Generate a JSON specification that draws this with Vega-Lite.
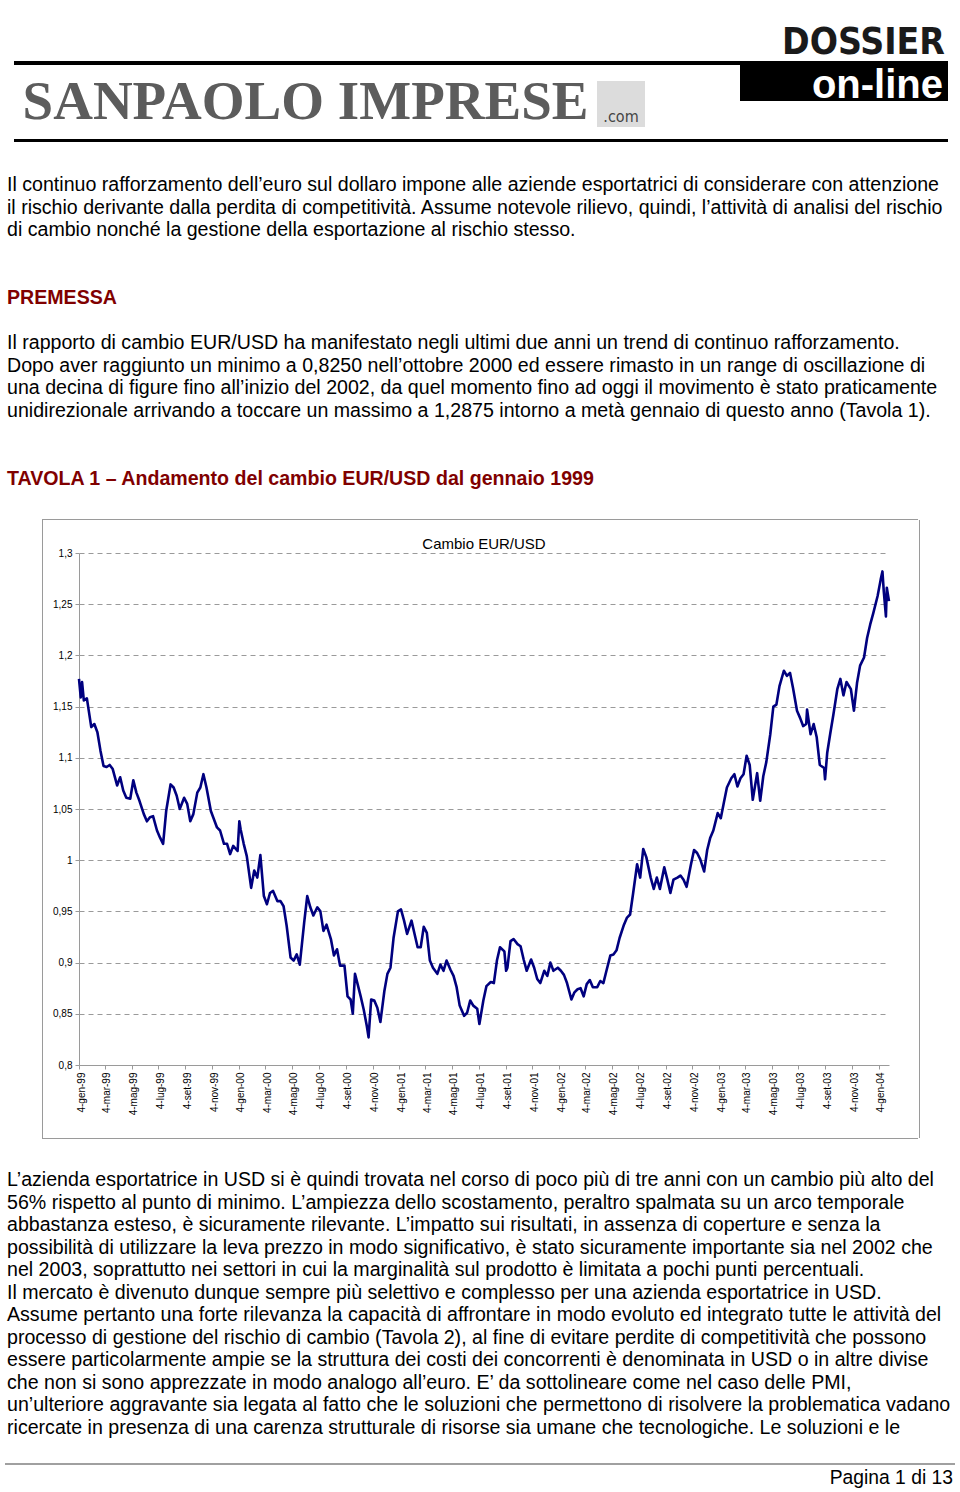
{
  "$schema": "https://vega.github.io/schema/vega-lite/v6.json",
  "background": "white",
  "padding": {"top": 24, "left": 0, "right": 0, "bottom": 0},
  "spacing": 0,
  "config": {"view": {"stroke": null}, "concat": {"spacing": 0}},
  "vconcat": [
    {
      "spacing": 0,
      "hconcat": [
        {"width": 14, "height": 1, "data": {"values": []}, "mark": "rect", "encoding": {}},
        {
          "spacing": 0,
          "vconcat": [
            {"width": 726, "height": 4, "data": {"values": [{}]}, "mark": {"type": "rect", "color": "#000000"}, "encoding": {}},
            {
              "spacing": 0,
              "hconcat": [
                {
                  "width": 583, "height": 74,
                  "data": {"values": [{"marchio": "SANPAOLO IMPRESE"}]},
                  "mark": {"type": "text", "font": "Liberation Serif", "fontWeight": "bold", "fontSize": 55, "color": "#5c5c5c", "align": "center", "baseline": "middle"},
                  "encoding": {"text": {"field": "marchio"}}
                },
                {
                  "spacing": 0,
                  "vconcat": [
                    {"width": 48, "height": 16, "data": {"values": []}, "mark": "rect", "encoding": {}},
                    {
                      "width": 48, "height": 46,
                      "data": {"values": [{"dominio": ".com"}]},
                      "layer": [
                        {"mark": {"type": "rect", "color": "#dcdcdc"}, "encoding": {}},
                        {"mark": {"type": "text", "font": "DejaVu Sans Condensed", "fontSize": 16, "color": "#444444", "baseline": "alphabetic", "y": "height", "dy": -5}, "encoding": {"text": {"field": "dominio"}}}
                      ]
                    }
                  ]
                }
              ]
            }
          ]
        },
        {
          "width": 208, "height": 40,
          "title": {"text": "DOSSIER", "orient": "top", "anchor": "end", "frame": "group", "offset": -30, "baseline": "alphabetic", "font": "DejaVu Sans Condensed", "fontWeight": "bold", "fontSize": 37, "color": "#1a1a1a", "dx": -3},
          "data": {"values": [{"testata": "on-line"}]},
          "layer": [
            {"mark": {"type": "rect", "color": "#000000"}, "encoding": {}},
            {"mark": {"type": "text", "font": "Liberation Sans", "fontWeight": "bold", "fontSize": 40, "color": "#ffffff", "align": "right", "baseline": "middle", "x": "width", "dx": -5, "dy": 5}, "encoding": {"text": {"field": "testata"}}}
          ]
        }
      ]
    },
    {
      "spacing": 0,
      "hconcat": [
        {"width": 14, "height": 1, "data": {"values": []}, "mark": "rect", "encoding": {}},
        {"width": 934, "height": 3, "data": {"values": [{}]}, "mark": {"type": "rect", "color": "#000000"}, "encoding": {}}
      ]
    },
    {
      "spacing": 0,
      "hconcat": [
        {"width": 7, "height": 1, "data": {"values": []}, "mark": "rect", "encoding": {}},
        {
          "width": 946, "height": 377,
          "data": {"values": [
            {"riga": 1, "tipo": "testo", "testo": "Il continuo rafforzamento dell’euro sul dollaro impone alle aziende esportatrici di considerare con attenzione"},
            {"riga": 2, "tipo": "testo", "testo": "il rischio derivante dalla perdita di competitività. Assume notevole rilievo, quindi, l’attività di analisi del rischio"},
            {"riga": 3, "tipo": "testo", "testo": "di cambio nonché la gestione della esportazione al rischio stesso."},
            {"riga": 6, "tipo": "titolo", "testo": "PREMESSA"},
            {"riga": 8, "tipo": "testo", "testo": "Il rapporto di cambio EUR/USD ha manifestato negli ultimi due anni un trend di continuo rafforzamento."},
            {"riga": 9, "tipo": "testo", "testo": "Dopo aver raggiunto un minimo a 0,8250 nell’ottobre 2000 ed essere rimasto in un range di oscillazione di"},
            {"riga": 10, "tipo": "testo", "testo": "una decina di figure fino all’inizio del 2002, da quel momento fino ad oggi il movimento è stato praticamente"},
            {"riga": 11, "tipo": "testo", "testo": "unidirezionale arrivando a toccare un massimo a 1,2875 intorno a metà gennaio di questo anno (Tavola 1)."},
            {"riga": 14, "tipo": "titolo", "testo": "TAVOLA 1 – Andamento del cambio EUR/USD dal gennaio 1999"}
          ]},
          "encoding": {
            "x": {"datum": 0, "type": "quantitative", "scale": {"domain": [0, 1], "nice": false}, "axis": null},
            "y": {"field": "riga", "type": "quantitative", "scale": {"domain": [-0.903, 15.78], "reverse": true, "nice": false, "zero": false}, "axis": null},
            "text": {"field": "testo"}
          },
          "layer": [
            {"transform": [{"filter": "datum.tipo === 'testo'"}], "mark": {"type": "text", "align": "left", "baseline": "middle", "font": "Liberation Sans", "fontSize": 19.6, "color": "#000000"}},
            {"transform": [{"filter": "datum.tipo === 'titolo'"}], "mark": {"type": "text", "align": "left", "baseline": "middle", "font": "Liberation Sans", "fontSize": 19.6, "fontWeight": "bold", "color": "#800000"}}
          ]
        }
      ]
    },
    {
      "spacing": 0,
      "hconcat": [
        {"width": 42, "height": 1, "data": {"values": []}, "mark": "rect", "encoding": {}},
        {
          "spacing": 0,
          "vconcat": [
            {"width": 876, "height": 1, "data": {"values": [{}]}, "mark": {"type": "rect", "color": "#9a9a9a"}, "encoding": {}},
            {
              "spacing": 0,
              "hconcat": [
                {"width": 1, "height": 618, "data": {"values": [{}]}, "mark": {"type": "rect", "color": "#9a9a9a"}, "encoding": {}},
                {"width": 8.5, "height": 1, "data": {"values": []}, "mark": "rect", "encoding": {}},
                {
                  "spacing": 0,
                  "vconcat": [
                    {"width": 1, "height": 17, "data": {"values": []}, "mark": "rect", "encoding": {}},
                    {
                      "width": 810, "height": 512,
                      "title": {"text": "Cambio EUR/USD", "font": "Liberation Sans", "fontSize": 15, "fontWeight": "normal", "color": "#000000", "anchor": "middle", "frame": "group", "offset": -16, "baseline": "alphabetic"},
                      "data": {"values": [
                        {"giorno": "1999-01-04", "cambio": 1.177}, {"giorno": "1999-01-08", "cambio": 1.159}, {"giorno": "1999-01-11", "cambio": 1.174}, {"giorno": "1999-01-15", "cambio": 1.156}, {"giorno": "1999-01-22", "cambio": 1.158},
                        {"giorno": "1999-02-01", "cambio": 1.130}, {"giorno": "1999-02-08", "cambio": 1.133}, {"giorno": "1999-02-15", "cambio": 1.125}, {"giorno": "1999-02-22", "cambio": 1.107},
                        {"giorno": "1999-03-01", "cambio": 1.092}, {"giorno": "1999-03-08", "cambio": 1.091}, {"giorno": "1999-03-15", "cambio": 1.093}, {"giorno": "1999-03-22", "cambio": 1.089},
                        {"giorno": "1999-04-01", "cambio": 1.073}, {"giorno": "1999-04-08", "cambio": 1.081}, {"giorno": "1999-04-15", "cambio": 1.068}, {"giorno": "1999-04-22", "cambio": 1.061},
                        {"giorno": "1999-05-01", "cambio": 1.060}, {"giorno": "1999-05-08", "cambio": 1.078}, {"giorno": "1999-05-15", "cambio": 1.066}, {"giorno": "1999-05-22", "cambio": 1.058},
                        {"giorno": "1999-06-01", "cambio": 1.045}, {"giorno": "1999-06-08", "cambio": 1.038}, {"giorno": "1999-06-15", "cambio": 1.042}, {"giorno": "1999-06-22", "cambio": 1.043},
                        {"giorno": "1999-07-01", "cambio": 1.029}, {"giorno": "1999-07-08", "cambio": 1.022}, {"giorno": "1999-07-15", "cambio": 1.016}, {"giorno": "1999-07-22", "cambio": 1.048},
                        {"giorno": "1999-08-01", "cambio": 1.074}, {"giorno": "1999-08-08", "cambio": 1.071}, {"giorno": "1999-08-15", "cambio": 1.063}, {"giorno": "1999-08-22", "cambio": 1.050},
                        {"giorno": "1999-09-01", "cambio": 1.061}, {"giorno": "1999-09-08", "cambio": 1.055}, {"giorno": "1999-09-15", "cambio": 1.038}, {"giorno": "1999-09-22", "cambio": 1.045},
                        {"giorno": "1999-10-01", "cambio": 1.066}, {"giorno": "1999-10-08", "cambio": 1.071}, {"giorno": "1999-10-15", "cambio": 1.084}, {"giorno": "1999-10-22", "cambio": 1.071},
                        {"giorno": "1999-11-01", "cambio": 1.048}, {"giorno": "1999-11-08", "cambio": 1.040}, {"giorno": "1999-11-15", "cambio": 1.032}, {"giorno": "1999-11-22", "cambio": 1.029},
                        {"giorno": "1999-12-01", "cambio": 1.016}, {"giorno": "1999-12-08", "cambio": 1.016}, {"giorno": "1999-12-15", "cambio": 1.006}, {"giorno": "1999-12-22", "cambio": 1.014},
                        {"giorno": "2000-01-01", "cambio": 1.009}, {"giorno": "2000-01-05", "cambio": 1.038}, {"giorno": "2000-01-08", "cambio": 1.030}, {"giorno": "2000-01-15", "cambio": 1.016}, {"giorno": "2000-01-22", "cambio": 1.004},
                        {"giorno": "2000-02-01", "cambio": 0.973}, {"giorno": "2000-02-08", "cambio": 0.990}, {"giorno": "2000-02-15", "cambio": 0.983}, {"giorno": "2000-02-22", "cambio": 1.005},
                        {"giorno": "2000-03-01", "cambio": 0.965}, {"giorno": "2000-03-08", "cambio": 0.957}, {"giorno": "2000-03-15", "cambio": 0.968}, {"giorno": "2000-03-22", "cambio": 0.970},
                        {"giorno": "2000-04-01", "cambio": 0.960}, {"giorno": "2000-04-08", "cambio": 0.960}, {"giorno": "2000-04-15", "cambio": 0.955}, {"giorno": "2000-04-22", "cambio": 0.936},
                        {"giorno": "2000-05-01", "cambio": 0.905}, {"giorno": "2000-05-08", "cambio": 0.902}, {"giorno": "2000-05-15", "cambio": 0.908}, {"giorno": "2000-05-22", "cambio": 0.898},
                        {"giorno": "2000-06-01", "cambio": 0.939}, {"giorno": "2000-06-08", "cambio": 0.965}, {"giorno": "2000-06-15", "cambio": 0.954}, {"giorno": "2000-06-22", "cambio": 0.946},
                        {"giorno": "2000-07-01", "cambio": 0.954}, {"giorno": "2000-07-08", "cambio": 0.950}, {"giorno": "2000-07-15", "cambio": 0.931}, {"giorno": "2000-07-22", "cambio": 0.937},
                        {"giorno": "2000-08-01", "cambio": 0.923}, {"giorno": "2000-08-08", "cambio": 0.907}, {"giorno": "2000-08-15", "cambio": 0.913}, {"giorno": "2000-08-22", "cambio": 0.897},
                        {"giorno": "2000-09-01", "cambio": 0.897}, {"giorno": "2000-09-08", "cambio": 0.867}, {"giorno": "2000-09-15", "cambio": 0.864}, {"giorno": "2000-09-20", "cambio": 0.850}, {"giorno": "2000-09-25", "cambio": 0.889},
                        {"giorno": "2000-10-01", "cambio": 0.879}, {"giorno": "2000-10-08", "cambio": 0.867}, {"giorno": "2000-10-15", "cambio": 0.854}, {"giorno": "2000-10-22", "cambio": 0.838}, {"giorno": "2000-10-26", "cambio": 0.827},
                        {"giorno": "2000-11-01", "cambio": 0.864}, {"giorno": "2000-11-08", "cambio": 0.863}, {"giorno": "2000-11-15", "cambio": 0.856}, {"giorno": "2000-11-22", "cambio": 0.842},
                        {"giorno": "2000-12-01", "cambio": 0.872}, {"giorno": "2000-12-08", "cambio": 0.889}, {"giorno": "2000-12-15", "cambio": 0.895}, {"giorno": "2000-12-22", "cambio": 0.924},
                        {"giorno": "2001-01-01", "cambio": 0.950}, {"giorno": "2001-01-08", "cambio": 0.952}, {"giorno": "2001-01-15", "cambio": 0.941}, {"giorno": "2001-01-22", "cambio": 0.928},
                        {"giorno": "2001-02-01", "cambio": 0.941}, {"giorno": "2001-02-08", "cambio": 0.928}, {"giorno": "2001-02-15", "cambio": 0.915}, {"giorno": "2001-02-22", "cambio": 0.915},
                        {"giorno": "2001-03-01", "cambio": 0.935}, {"giorno": "2001-03-08", "cambio": 0.929}, {"giorno": "2001-03-15", "cambio": 0.902}, {"giorno": "2001-03-22", "cambio": 0.895},
                        {"giorno": "2001-04-01", "cambio": 0.889}, {"giorno": "2001-04-08", "cambio": 0.898}, {"giorno": "2001-04-15", "cambio": 0.892}, {"giorno": "2001-04-22", "cambio": 0.902},
                        {"giorno": "2001-05-01", "cambio": 0.893}, {"giorno": "2001-05-08", "cambio": 0.887}, {"giorno": "2001-05-15", "cambio": 0.876}, {"giorno": "2001-05-22", "cambio": 0.858},
                        {"giorno": "2001-06-01", "cambio": 0.848}, {"giorno": "2001-06-08", "cambio": 0.851}, {"giorno": "2001-06-15", "cambio": 0.863}, {"giorno": "2001-06-22", "cambio": 0.858},
                        {"giorno": "2001-07-01", "cambio": 0.855}, {"giorno": "2001-07-06", "cambio": 0.840}, {"giorno": "2001-07-15", "cambio": 0.863}, {"giorno": "2001-07-22", "cambio": 0.877},
                        {"giorno": "2001-08-01", "cambio": 0.881}, {"giorno": "2001-08-08", "cambio": 0.880}, {"giorno": "2001-08-15", "cambio": 0.902}, {"giorno": "2001-08-22", "cambio": 0.915},
                        {"giorno": "2001-09-01", "cambio": 0.911}, {"giorno": "2001-09-05", "cambio": 0.892}, {"giorno": "2001-09-08", "cambio": 0.895}, {"giorno": "2001-09-15", "cambio": 0.921}, {"giorno": "2001-09-22", "cambio": 0.923},
                        {"giorno": "2001-10-01", "cambio": 0.918}, {"giorno": "2001-10-08", "cambio": 0.916}, {"giorno": "2001-10-15", "cambio": 0.903}, {"giorno": "2001-10-22", "cambio": 0.892},
                        {"giorno": "2001-11-01", "cambio": 0.903}, {"giorno": "2001-11-08", "cambio": 0.895}, {"giorno": "2001-11-15", "cambio": 0.884}, {"giorno": "2001-11-22", "cambio": 0.880},
                        {"giorno": "2001-12-01", "cambio": 0.892}, {"giorno": "2001-12-08", "cambio": 0.887}, {"giorno": "2001-12-15", "cambio": 0.900}, {"giorno": "2001-12-22", "cambio": 0.892},
                        {"giorno": "2002-01-01", "cambio": 0.895}, {"giorno": "2002-01-08", "cambio": 0.892}, {"giorno": "2002-01-15", "cambio": 0.888}, {"giorno": "2002-01-22", "cambio": 0.880},
                        {"giorno": "2002-02-01", "cambio": 0.864}, {"giorno": "2002-02-08", "cambio": 0.871}, {"giorno": "2002-02-15", "cambio": 0.874}, {"giorno": "2002-02-22", "cambio": 0.875},
                        {"giorno": "2002-03-01", "cambio": 0.867}, {"giorno": "2002-03-08", "cambio": 0.879}, {"giorno": "2002-03-15", "cambio": 0.883}, {"giorno": "2002-03-22", "cambio": 0.876},
                        {"giorno": "2002-04-01", "cambio": 0.876}, {"giorno": "2002-04-08", "cambio": 0.882}, {"giorno": "2002-04-15", "cambio": 0.880}, {"giorno": "2002-04-22", "cambio": 0.892},
                        {"giorno": "2002-05-01", "cambio": 0.907}, {"giorno": "2002-05-08", "cambio": 0.908}, {"giorno": "2002-05-15", "cambio": 0.912}, {"giorno": "2002-05-22", "cambio": 0.924},
                        {"giorno": "2002-06-01", "cambio": 0.937}, {"giorno": "2002-06-08", "cambio": 0.944}, {"giorno": "2002-06-15", "cambio": 0.947}, {"giorno": "2002-06-22", "cambio": 0.968},
                        {"giorno": "2002-07-01", "cambio": 0.996}, {"giorno": "2002-07-08", "cambio": 0.983}, {"giorno": "2002-07-15", "cambio": 1.011}, {"giorno": "2002-07-22", "cambio": 1.003},
                        {"giorno": "2002-08-01", "cambio": 0.983}, {"giorno": "2002-08-08", "cambio": 0.972}, {"giorno": "2002-08-15", "cambio": 0.983}, {"giorno": "2002-08-22", "cambio": 0.972},
                        {"giorno": "2002-09-01", "cambio": 0.993}, {"giorno": "2002-09-08", "cambio": 0.981}, {"giorno": "2002-09-15", "cambio": 0.968}, {"giorno": "2002-09-22", "cambio": 0.981},
                        {"giorno": "2002-10-01", "cambio": 0.983}, {"giorno": "2002-10-08", "cambio": 0.985}, {"giorno": "2002-10-15", "cambio": 0.981}, {"giorno": "2002-10-22", "cambio": 0.974},
                        {"giorno": "2002-11-01", "cambio": 0.996}, {"giorno": "2002-11-08", "cambio": 1.010}, {"giorno": "2002-11-15", "cambio": 1.007}, {"giorno": "2002-11-22", "cambio": 1.001},
                        {"giorno": "2002-12-01", "cambio": 0.989}, {"giorno": "2002-12-08", "cambio": 1.010}, {"giorno": "2002-12-15", "cambio": 1.022}, {"giorno": "2002-12-22", "cambio": 1.029},
                        {"giorno": "2003-01-01", "cambio": 1.046}, {"giorno": "2003-01-08", "cambio": 1.041}, {"giorno": "2003-01-15", "cambio": 1.056}, {"giorno": "2003-01-22", "cambio": 1.071},
                        {"giorno": "2003-02-01", "cambio": 1.080}, {"giorno": "2003-02-08", "cambio": 1.084}, {"giorno": "2003-02-15", "cambio": 1.072}, {"giorno": "2003-02-22", "cambio": 1.080},
                        {"giorno": "2003-03-01", "cambio": 1.084}, {"giorno": "2003-03-08", "cambio": 1.102}, {"giorno": "2003-03-15", "cambio": 1.093}, {"giorno": "2003-03-22", "cambio": 1.059},
                        {"giorno": "2003-04-01", "cambio": 1.085}, {"giorno": "2003-04-08", "cambio": 1.058}, {"giorno": "2003-04-15", "cambio": 1.082}, {"giorno": "2003-04-22", "cambio": 1.096},
                        {"giorno": "2003-05-01", "cambio": 1.123}, {"giorno": "2003-05-08", "cambio": 1.150}, {"giorno": "2003-05-15", "cambio": 1.152}, {"giorno": "2003-05-22", "cambio": 1.170},
                        {"giorno": "2003-06-01", "cambio": 1.185}, {"giorno": "2003-06-08", "cambio": 1.180}, {"giorno": "2003-06-15", "cambio": 1.183}, {"giorno": "2003-06-22", "cambio": 1.168},
                        {"giorno": "2003-07-01", "cambio": 1.146}, {"giorno": "2003-07-08", "cambio": 1.139}, {"giorno": "2003-07-15", "cambio": 1.131}, {"giorno": "2003-07-22", "cambio": 1.133}, {"giorno": "2003-07-24", "cambio": 1.147},
                        {"giorno": "2003-08-01", "cambio": 1.123}, {"giorno": "2003-08-08", "cambio": 1.133}, {"giorno": "2003-08-15", "cambio": 1.120}, {"giorno": "2003-08-22", "cambio": 1.093},
                        {"giorno": "2003-09-01", "cambio": 1.090}, {"giorno": "2003-09-03", "cambio": 1.079}, {"giorno": "2003-09-08", "cambio": 1.105}, {"giorno": "2003-09-15", "cambio": 1.124}, {"giorno": "2003-09-22", "cambio": 1.142},
                        {"giorno": "2003-10-01", "cambio": 1.167}, {"giorno": "2003-10-08", "cambio": 1.177}, {"giorno": "2003-10-15", "cambio": 1.161}, {"giorno": "2003-10-22", "cambio": 1.174},
                        {"giorno": "2003-11-01", "cambio": 1.167}, {"giorno": "2003-11-08", "cambio": 1.146}, {"giorno": "2003-11-15", "cambio": 1.173}, {"giorno": "2003-11-22", "cambio": 1.190},
                        {"giorno": "2003-12-01", "cambio": 1.198}, {"giorno": "2003-12-08", "cambio": 1.217}, {"giorno": "2003-12-15", "cambio": 1.230}, {"giorno": "2003-12-22", "cambio": 1.241},
                        {"giorno": "2004-01-01", "cambio": 1.258}, {"giorno": "2004-01-08", "cambio": 1.274}, {"giorno": "2004-01-12", "cambio": 1.282}, {"giorno": "2004-01-15", "cambio": 1.263}, {"giorno": "2004-01-20", "cambio": 1.238}, {"giorno": "2004-01-22", "cambio": 1.266}, {"giorno": "2004-01-27", "cambio": 1.253}
                      ]},
                      "mark": {"type": "line", "color": "#00007f", "strokeWidth": 2.6, "strokeJoin": "round"},
                      "encoding": {
                        "x": {
                          "field": "giorno", "type": "temporal",
                          "scale": {"type": "utc", "nice": false, "domain": [{"year": 1999, "month": 1, "date": 4, "utc": true}, {"year": 2004, "month": 1, "date": 27, "utc": true}]},
                          "axis": {
                            "title": null, "grid": false,
                            "values": [
                              {"year": 1999, "month": 1, "date": 4, "utc": true}, {"year": 1999, "month": 3, "date": 4, "utc": true}, {"year": 1999, "month": 5, "date": 4, "utc": true}, {"year": 1999, "month": 7, "date": 4, "utc": true}, {"year": 1999, "month": 9, "date": 4, "utc": true}, {"year": 1999, "month": 11, "date": 4, "utc": true},
                              {"year": 2000, "month": 1, "date": 4, "utc": true}, {"year": 2000, "month": 3, "date": 4, "utc": true}, {"year": 2000, "month": 5, "date": 4, "utc": true}, {"year": 2000, "month": 7, "date": 4, "utc": true}, {"year": 2000, "month": 9, "date": 4, "utc": true}, {"year": 2000, "month": 11, "date": 4, "utc": true},
                              {"year": 2001, "month": 1, "date": 4, "utc": true}, {"year": 2001, "month": 3, "date": 4, "utc": true}, {"year": 2001, "month": 5, "date": 4, "utc": true}, {"year": 2001, "month": 7, "date": 4, "utc": true}, {"year": 2001, "month": 9, "date": 4, "utc": true}, {"year": 2001, "month": 11, "date": 4, "utc": true},
                              {"year": 2002, "month": 1, "date": 4, "utc": true}, {"year": 2002, "month": 3, "date": 4, "utc": true}, {"year": 2002, "month": 5, "date": 4, "utc": true}, {"year": 2002, "month": 7, "date": 4, "utc": true}, {"year": 2002, "month": 9, "date": 4, "utc": true}, {"year": 2002, "month": 11, "date": 4, "utc": true},
                              {"year": 2003, "month": 1, "date": 4, "utc": true}, {"year": 2003, "month": 3, "date": 4, "utc": true}, {"year": 2003, "month": 5, "date": 4, "utc": true}, {"year": 2003, "month": 7, "date": 4, "utc": true}, {"year": 2003, "month": 9, "date": 4, "utc": true}, {"year": 2003, "month": 11, "date": 4, "utc": true},
                              {"year": 2004, "month": 1, "date": 4, "utc": true}
                            ],
                            "labelExpr": "'4-' + ['gen','feb','mar','apr','mag','giu','lug','ago','set','ott','nov','dic'][utcmonth(datum.value)] + '-' + utcFormat(datum.value, '%y')",
                            "labelAngle": -90, "labelFont": "Liberation Sans", "labelFontSize": 10, "labelColor": "#000000", "labelPadding": 3, "labelOffset": 2,
                            "labelOverlap": false, "labelFlush": false, "labelBound": false,
                            "tickSize": 4, "tickColor": "#9a9a9a", "domainColor": "#9a9a9a"
                          }
                        },
                        "y": {
                          "field": "cambio", "type": "quantitative",
                          "scale": {"domain": [0.8, 1.3], "nice": false, "zero": false},
                          "axis": {
                            "title": null,
                            "values": [0.8, 0.85, 0.9, 0.95, 1, 1.05, 1.1, 1.15, 1.2, 1.25, 1.3],
                            "labelExpr": "replace(format(datum.value, '.2~f'), '.', ',')",
                            "grid": true, "gridDash": [5, 4], "gridColor": "#9a9a9a", "gridWidth": 1,
                            "domainColor": "#9a9a9a", "tickColor": "#9a9a9a", "tickSize": 4,
                            "labelFont": "Liberation Sans", "labelFontSize": 10, "labelColor": "#000000", "labelPadding": 3,
                            "labelOverlap": false, "labelFlush": false
                          }
                        }
                      }
                    }
                  ]
                },
                {"width": 27.7, "height": 1, "data": {"values": []}, "mark": "rect", "encoding": {}},
                {"width": 1, "height": 618, "data": {"values": [{}]}, "mark": {"type": "rect", "color": "#9a9a9a"}, "encoding": {}}
              ]
            },
            {"width": 876, "height": 1, "data": {"values": [{}]}, "mark": {"type": "rect", "color": "#9a9a9a"}, "encoding": {}}
          ]
        }
      ]
    },
    {
      "spacing": 0,
      "hconcat": [
        {"width": 7, "height": 1, "data": {"values": []}, "mark": "rect", "encoding": {}},
        {
          "width": 946, "height": 324,
          "data": {"values": [
            {"riga": 1, "testo": "L’azienda esportatrice in USD si è quindi trovata nel corso di poco più di tre anni con un cambio più alto del"},
            {"riga": 2, "testo": "56% rispetto al punto di minimo. L’ampiezza dello scostamento, peraltro spalmata su un arco temporale"},
            {"riga": 3, "testo": "abbastanza esteso, è sicuramente rilevante. L’impatto sui risultati, in assenza di coperture e senza la"},
            {"riga": 4, "testo": "possibilità di utilizzare la leva prezzo in modo significativo, è stato sicuramente importante sia nel 2002 che"},
            {"riga": 5, "testo": "nel 2003, soprattutto nei settori in cui la marginalità sul prodotto è limitata a pochi punti percentuali."},
            {"riga": 6, "testo": "Il mercato è divenuto dunque sempre più selettivo e complesso per una azienda esportatrice in USD."},
            {"riga": 7, "testo": "Assume pertanto una forte rilevanza la capacità di affrontare in modo evoluto ed integrato tutte le attività del"},
            {"riga": 8, "testo": "processo di gestione del rischio di cambio (Tavola 2), al fine di evitare perdite di competitività che possono"},
            {"riga": 9, "testo": "essere particolarmente ampie se la struttura dei costi dei concorrenti è denominata in USD o in altre divise"},
            {"riga": 10, "testo": "che non si sono apprezzate in modo analogo all’euro. E’ da sottolineare come nel caso delle PMI,"},
            {"riga": 11, "testo": "un’ulteriore aggravante sia legata al fatto che le soluzioni che permettono di risolvere la problematica vadano"},
            {"riga": 12, "testo": "ricercate in presenza di una carenza strutturale di risorse sia umane che tecnologiche. Le soluzioni e le"}
          ]},
          "mark": {"type": "text", "align": "left", "baseline": "middle", "font": "Liberation Sans", "fontSize": 19.6, "color": "#000000"},
          "encoding": {
            "x": {"datum": 0, "type": "quantitative", "scale": {"domain": [0, 1], "nice": false}, "axis": null},
            "y": {"field": "riga", "type": "quantitative", "scale": {"domain": [-0.818, 13.55], "reverse": true, "nice": false, "zero": false}, "axis": null},
            "text": {"field": "testo"}
          }
        }
      ]
    },
    {
      "spacing": 0,
      "hconcat": [
        {"width": 5, "height": 1, "data": {"values": []}, "mark": "rect", "encoding": {}},
        {"width": 950, "height": 2, "data": {"values": [{}]}, "mark": {"type": "rect", "color": "#a0a0a0"}, "encoding": {}}
      ]
    },
    {
      "spacing": 0,
      "hconcat": [
        {"width": 5, "height": 1, "data": {"values": []}, "mark": "rect", "encoding": {}},
        {
          "width": 948, "height": 26,
          "data": {"values": [{"pagina": "Pagina 1 di 13"}]},
          "mark": {"type": "text", "align": "right", "baseline": "middle", "font": "Liberation Sans", "fontSize": 19.3, "color": "#000000", "x": "width"},
          "encoding": {"text": {"field": "pagina"}}
        }
      ]
    }
  ]
}
